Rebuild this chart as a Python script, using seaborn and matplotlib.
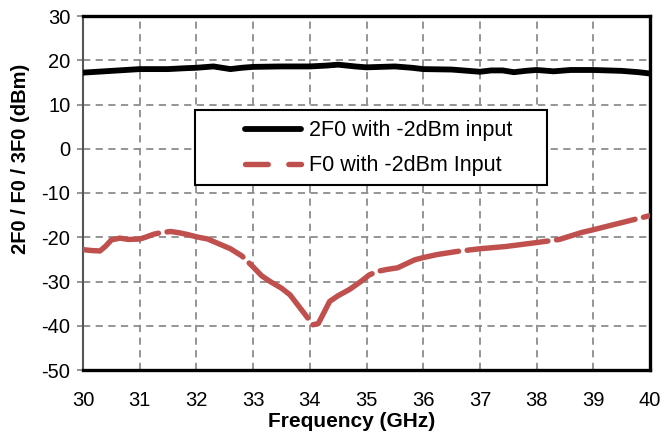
import matplotlib
matplotlib.use("Agg")
import matplotlib.pyplot as plt
import seaborn as sns
import pandas as pd
from matplotlib.lines import Line2D
from matplotlib.patches import Rectangle

# ---- data ----
freq_2f0 = [30.0, 30.5, 31.0, 31.5, 31.8, 32.0, 32.3, 32.6, 32.8, 33.0, 33.5, 34.0,
            34.3, 34.5, 34.8, 35.0, 35.5, 35.8, 36.0, 36.5, 37.0, 37.2, 37.4, 37.6,
            37.8, 38.0, 38.3, 38.6, 39.0, 39.5, 39.8, 40.0]
p_2f0 = [17.2, 17.6, 18.0, 18.0, 18.2, 18.3, 18.6, 18.0, 18.3, 18.5, 18.6, 18.6,
         18.8, 19.0, 18.6, 18.4, 18.6, 18.3, 18.0, 17.9, 17.4, 17.7, 17.7, 17.3,
         17.6, 17.8, 17.5, 17.8, 17.8, 17.6, 17.3, 17.0]

freq_f0 = [30.0, 30.15, 30.3, 30.4, 30.5, 30.65, 30.8, 31.0, 31.1, 31.25, 31.4, 31.55,
           31.7, 31.85, 32.0, 32.2, 32.4, 32.6, 32.8, 33.0, 33.15, 33.3, 33.5, 33.65,
           33.8, 33.95, 34.05, 34.15, 34.25, 34.35, 34.5, 34.7, 34.9, 35.05, 35.2,
           35.35, 35.55, 35.7, 35.85, 36.0, 36.25, 36.6, 37.0, 37.45, 38.0, 38.4,
           38.8, 39.0, 39.5, 40.0]
p_f0 = [-22.8, -23.0, -23.1, -22.0, -20.6, -20.2, -20.5, -20.4, -20.0, -19.3, -18.9, -18.7,
        -19.0, -19.4, -19.9, -20.4, -21.5, -22.6, -24.2, -26.7, -28.7, -30.0, -31.5, -33.0,
        -35.5, -38.0, -39.8, -39.5, -37.0, -34.5, -33.2, -31.8, -30.0, -28.5, -27.7,
        -27.3, -26.9, -26.0, -25.1, -24.6, -23.9, -23.2, -22.6, -22.1, -21.2, -20.5,
        -18.9, -18.3, -16.7, -15.1]

labels = ["2F0 with -2dBm input", "F0 with -2dBm Input"]
x_ticks = list(range(30, 41))
y_ticks = list(range(-50, 31, 10))

df_2f0 = pd.DataFrame({"freq": freq_2f0, "p": p_2f0})
df_f0 = pd.DataFrame({"freq": freq_f0, "p": p_f0})

# ---- style ----
sns.set_style("white")
plt.rcParams["font.family"] = ["Liberation Sans", "DejaVu Sans"]
plt.rcParams["text.color"] = "black"
plt.rcParams["axes.labelcolor"] = "black"

RED = "#C0504D"
GRID = "#8C8C8C"

fig = plt.figure(figsize=(6.64, 4.34), dpi=100)
ax = fig.add_axes([83 / 664, 1 - 370 / 434, 567 / 664, 354 / 434])

sns.lineplot(data=df_2f0, x="freq", y="p", ax=ax, color="black", linewidth=4.2,
             solid_capstyle="round", solid_joinstyle="round", zorder=3, legend=False)
sns.lineplot(data=df_f0, x="freq", y="p", ax=ax, color=RED, linewidth=3.9,
             dashes=(15, 1.6), dash_capstyle="round", dash_joinstyle="round",
             zorder=3, legend=False)

ax.set_xlim(30, 40)
ax.set_ylim(-50, 30)
ax.set_xticks(x_ticks)
ax.set_yticks(y_ticks)
ax.set_xticklabels([str(v) for v in x_ticks])
ax.set_yticklabels([str(v) for v in y_ticks])

ax.grid(True, color=GRID, linestyle=(0, (4, 3)), linewidth=1.3)
ax.set_axisbelow(True)

for s in ["top", "right", "bottom"]:
    ax.spines[s].set_color("black")
    ax.spines[s].set_linewidth(2.4)
    ax.spines[s].set_visible(True)
ax.spines["left"].set_color("#555555")
ax.spines["left"].set_linewidth(1.5)
ax.spines["left"].set_visible(True)

ax.tick_params(axis="y", which="major", left=True, length=4, width=1.3, color=GRID,
               pad=5, labelsize=14.5, labelcolor="black")
ax.tick_params(axis="x", which="major", bottom=True, length=0, pad=15, labelsize=14.5,
               labelcolor="black")

ax.set_xlabel("Frequency (GHz)", fontsize=15, fontweight="bold", color="black")
ax.set_ylabel("2F0 / F0 / 3F0 (dBm)", fontsize=14.5, fontweight="bold", color="black")
ax.xaxis.set_label_coords(0.474, -0.119)
ax.yaxis.set_label_coords(-0.094, 0.596)

# legend box
rect = Rectangle((0.1975, 0.5226), 0.818 - 0.1975, 0.7345 - 0.5226,
                 transform=ax.transAxes, facecolor="white", edgecolor="black",
                 linewidth=1.5, zorder=4)
ax.add_patch(rect)

handles = [
    Line2D([], [], color="black", linewidth=4.2, solid_capstyle="round"),
    Line2D([], [], color=RED, linewidth=3.9, dashes=(4.2, 3.8), dash_capstyle="round"),
]
leg = ax.legend(handles, labels, loc="upper left", bbox_to_anchor=(0.286, 0.706),
                frameon=False, borderpad=0, borderaxespad=0, fontsize=15.5,
                handlelength=2.6, handletextpad=0.35, labelspacing=0.65)
leg.set_zorder(5)
for t in leg.get_texts():
    t.set_color("black")

fig.savefig("out.png", dpi=100)
